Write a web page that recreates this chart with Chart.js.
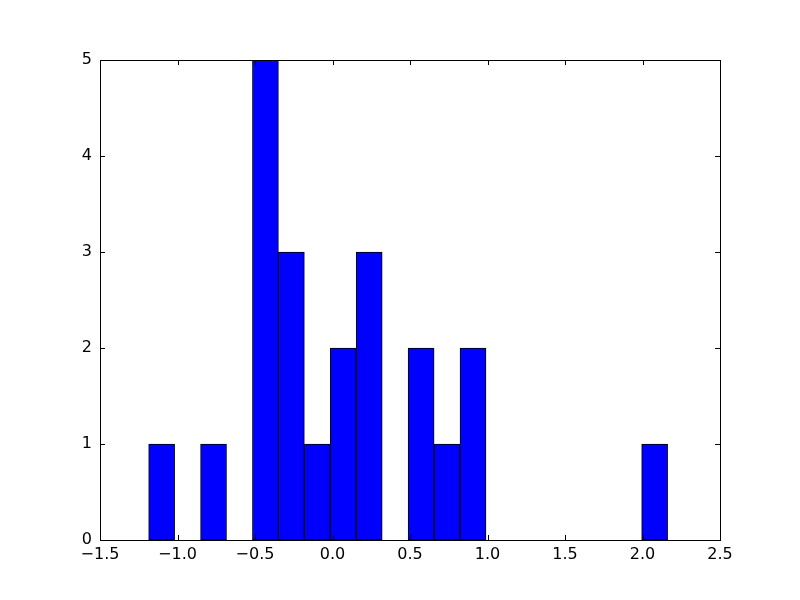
<!DOCTYPE html>
<html>
<head>
<meta charset="utf-8">
<script src="https://cdn.jsdelivr.net/npm/chart.js@4"></script>
<style>
  html, body { margin: 0; padding: 0; background: #fff; }
  #wrap { width: 800px; height: 600px; }
</style>
</head>
<body>
<div id="wrap"><canvas id="histCanvas" width="800" height="600"></canvas></div>
<script>
// bin centres (20 equal bins) and the count in each bin
const binCenters = [-1.1023, -0.9349, -0.7675, -0.6001, -0.4327, -0.2653, -0.0979, 0.0695, 0.2369, 0.4043,
                    0.5717, 0.7391, 0.9065, 1.0739, 1.2413, 1.4087, 1.5761, 1.7435, 1.9109, 2.0783];
const binCounts = [1, 0, 1, 0, 5, 3, 1, 2, 3, 0,
                   2, 1, 2, 0, 0, 0, 0, 0, 0, 1];
const xTicks = [-1.5, -1.0, -0.5, 0.0, 0.5, 1.0, 1.5, 2.0, 2.5];
const yTicks = [0, 1, 2, 3, 4, 5];

const tickFont = { family: "'DejaVu Sans', sans-serif", size: 16 };

// white background, black frame and inward ticks on all four sides
const framePlugin = {
    id: 'frame',
    beforeDraw(chart) {
        const ctx = chart.ctx;
        ctx.save();
        ctx.fillStyle = '#fff';
        ctx.fillRect(0, 0, chart.width, chart.height);
        ctx.restore();
    },
    afterDraw(chart) {
        const ctx = chart.ctx;
        const a = chart.chartArea;
        const xs = chart.scales.x, ys = chart.scales.y;
        const len = 5;
        ctx.save();
        ctx.strokeStyle = '#000';
        ctx.lineWidth = 1;
        ctx.beginPath();
        xTicks.forEach(v => {
            const px = Math.round(xs.getPixelForValue(v)) + 0.5;
            ctx.moveTo(px, a.bottom); ctx.lineTo(px, a.bottom - len);
            ctx.moveTo(px, a.top); ctx.lineTo(px, a.top + len);
        });
        yTicks.forEach(v => {
            const py = Math.round(ys.getPixelForValue(v)) + 0.5;
            ctx.moveTo(a.left, py); ctx.lineTo(a.left + len, py);
            ctx.moveTo(a.right, py); ctx.lineTo(a.right - len, py);
        });
        ctx.stroke();
        ctx.strokeRect(Math.round(a.left) + 0.5, Math.round(a.top) + 0.5,
                       Math.round(a.right - a.left), Math.round(a.bottom - a.top));
        ctx.restore();
    }
};

const fmtMinus = s => String(s).replace('-', '\u2212');

new Chart(document.getElementById('histCanvas'), {
    type: 'bar',
    data: {
        datasets: [{
            data: binCenters.map((c, i) => ({ x: c, y: binCounts[i] })),
            backgroundColor: '#0000ff',
            borderColor: '#000000',
            borderWidth: 1,
            borderSkipped: false,
            barPercentage: 1.0,
            categoryPercentage: 1.0
        }]
    },
    options: {
        responsive: false,
        animation: false,
        layout: { padding: { left: 0, top: 60, right: 80, bottom: 0 } },
        plugins: { legend: { display: false }, tooltip: { enabled: false } },
        scales: {
            x: {
                type: 'linear',
                min: -1.5,
                max: 2.5,
                offset: false,
                grid: { display: false, drawTicks: false, offset: false },
                border: { display: false },
                afterBuildTicks(scale) { scale.ticks = xTicks.map(v => ({ value: v })); },
                afterFit(scale) { scale.height = 60; },
                ticks: {
                    color: '#000',
                    font: tickFont,
                    padding: 5,
                    maxRotation: 0,
                    callback: v => fmtMinus(Number(v).toFixed(1))
                }
            },
            y: {
                min: 0,
                max: 5,
                grid: { display: false, drawTicks: false },
                border: { display: false },
                afterBuildTicks(scale) { scale.ticks = yTicks.map(v => ({ value: v })); },
                afterFit(scale) { scale.width = 100; },
                ticks: {
                    color: '#000',
                    font: tickFont,
                    padding: 8,
                    callback: v => String(v)
                }
            }
        }
    },
    plugins: [framePlugin]
});
</script>
</body>
</html>
